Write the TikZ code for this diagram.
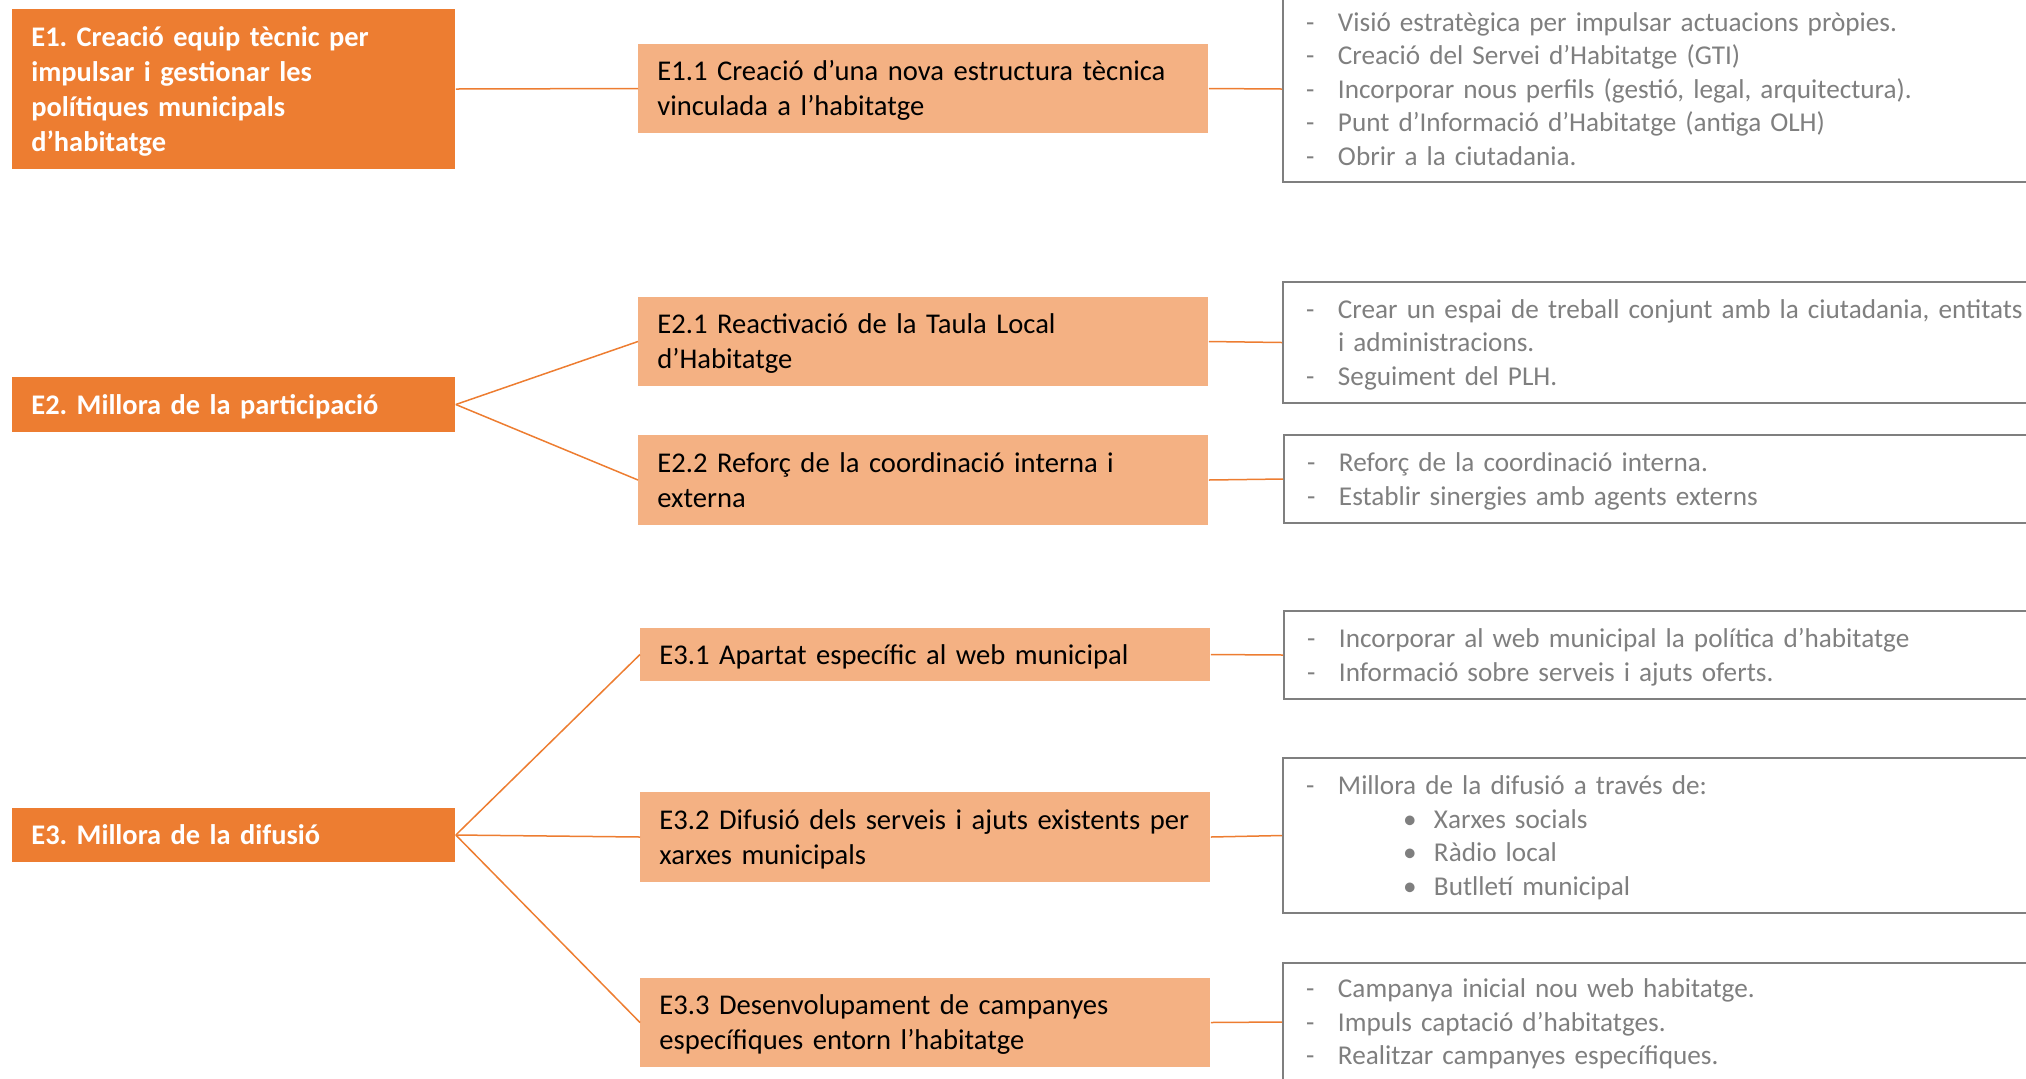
\documentclass[tikz,border=0pt]{standalone}
\usepackage{fontspec}
\setmainfont{Carlito}
\frenchspacing
\definecolor{accent}{HTML}{ED7D31}
\definecolor{accentlight}{HTML}{F4B183}
\definecolor{notegray}{HTML}{7F7F7F}
\newcommand{\dashitem}[1]{\hspace*{11.5pt}\makebox[16pt][l]{-}#1}
\newcommand{\dotitem}[1]{\hspace*{60pt}\makebox[15.5pt][l]{\textbullet}#1}
\tikzset{
  wordlines/.style={execute at begin node={\rule{0pt}{0.952em}},
    execute at end node={\rule[-0.269em]{0pt}{0.269em}}},
  axis/.style={fill=accent, text=white, font=\fontsize{14.2}{17.5}\selectfont\bfseries,
    anchor=west, inner xsep=9.5pt, inner ysep=0pt, align=left,
    text width=202.5pt, minimum width=221.5pt, wordlines},
  action/.style={fill=accentlight, text=black, font=\fontsize{14.3}{17.5}\selectfont,
    anchor=west, inner xsep=9.5pt, inner ysep=0pt, align=left,
    text width=266pt, minimum width=285pt, wordlines},
  notes/.style={draw=notegray, line width=1pt, text=notegray, font=\fontsize{13.6}{16.8}\selectfont,
    anchor=west, inner xsep=0pt, inner ysep=0pt, align=left,
    text width=400pt, minimum width=400pt, wordlines},
  link/.style={draw=accent, line width=0.75pt}
}
\begin{document}
\begin{tikzpicture}[x=0.5pt, y=-0.5pt]
    \useasboundingbox (0,0) rectangle (2026,1078);

    % Strategic axes
    \node[axis, minimum height=80pt] (E1) at (12,89) {E1. Creació equip tècnic per\\impulsar i gestionar les\\polítiques municipals\\d’habitatge};
    \node[axis, minimum height=27.5pt] (E2) at (12,404.5) {E2. Millora de la participació};
    \node[axis, minimum height=27pt] (E3) at (12,835) {E3. Millora de la difusió};

    % Actions
    \node[action, minimum height=44.5pt] (E11) at (638,88.5) {E1.1 Creació d’una nova estructura tècnica\\vinculada a l’habitatge};
    \node[action, minimum height=44.5pt] (E21) at (638,341.5) {E2.1 Reactivació de la Taula Local\\d’Habitatge};
    \node[action, minimum height=45pt] (E22) at (638,480) {E2.2 Reforç de la coordinació interna i\\externa};
    \node[action, minimum height=26.5pt] (E31) at (640,654.5) {E3.1 Apartat específic al web municipal};
    \node[action, minimum height=45pt] (E32) at (640,837) {E3.2 Difusió dels serveis i ajuts existents per\\xarxes municipals};
    \node[action, minimum height=44.5pt] (E33) at (640,1022.5) {E3.3 Desenvolupament de campanyes\\específiques entorn l’habitatge};

    % Detail boxes
    \node[notes, minimum height=93pt] (R1) at (1282,89) {\dashitem{Visió estratègica per impulsar actuacions pròpies.}\\
      \dashitem{Creació del Servei d’Habitatge (GTI)}\\
      \dashitem{Incorporar nous perfils (gestió, legal, arquitectura).}\\
      \dashitem{Punt d’Informació d’Habitatge (antiga OLH)}\\
      \dashitem{Obrir a la ciutadania.}};
    \node[notes, minimum height=60.5pt] (R2) at (1282,342.5) {\dashitem{Crear un espai de treball conjunt amb la ciutadania, entitats}\\
      \hspace*{27.5pt}i administracions.\\
      \dashitem{Seguiment del PLH.}};
    \node[notes, minimum height=44pt] (R3) at (1283,479) {\dashitem{Reforç de la coordinació interna.}\\
      \dashitem{Establir sinergies amb agents externs}};
    \node[notes, minimum height=44pt] (R4) at (1283,655) {\dashitem{Incorporar al web municipal la política d’habitatge}\\
      \dashitem{Informació sobre serveis i ajuts oferts.}};
    \node[notes, minimum height=77.5pt] (R5) at (1282,835.5) {\dashitem{Millora de la difusió a través de:}\\
      \dotitem{Xarxes socials}\\
      \dotitem{Ràdio local}\\
      \dotitem{Butlletí municipal}};
    \node[notes, minimum height=59pt] (R6) at (1282,1022) {\dashitem{Campanya inicial nou web habitatge.}\\
      \dashitem{Impuls captació d’habitatges.}\\
      \dashitem{Realitzar campanyes específiques.}};

    % Connectors
    \draw[link] (E1.east) -- (E11.west);
    \draw[link] (E2.east) -- (E21.west);
    \draw[link] (E2.east) -- (E22.west);
    \draw[link] (E3.east) -- (E31.west);
    \draw[link] (E3.east) -- (E32.west);
    \draw[link] (E3.east) -- (E33.west);
    \draw[link] (E11.east) -- (R1.west);
    \draw[link] (E21.east) -- (R2.west);
    \draw[link] (E22.east) -- (R3.west);
    \draw[link] (E31.east) -- (R4.west);
    \draw[link] (E32.east) -- (R5.west);
    \draw[link] (E33.east) -- (R6.west);

\end{tikzpicture}
\end{document}
